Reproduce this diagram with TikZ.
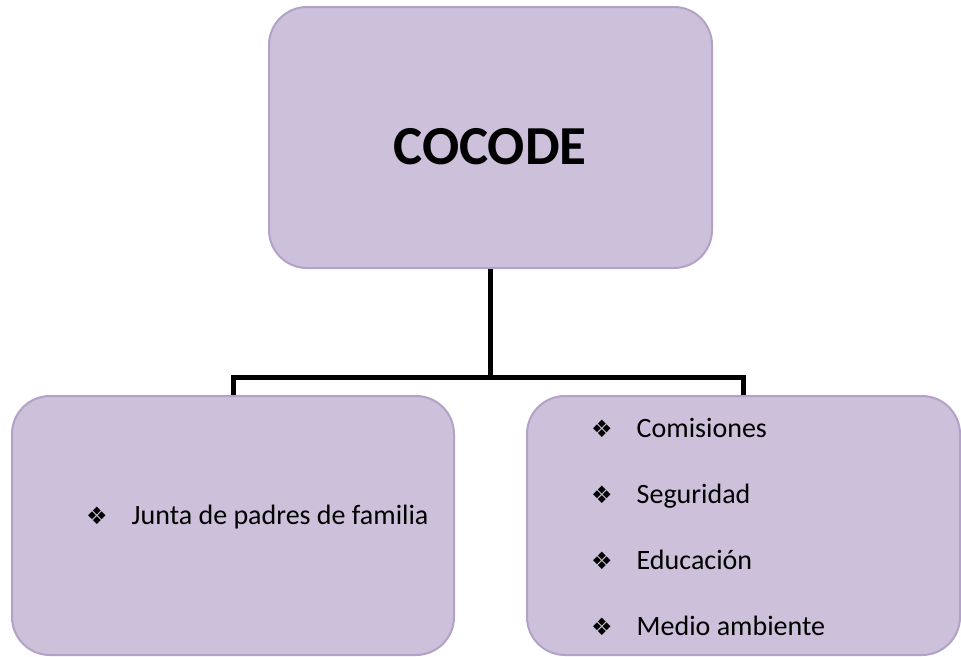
\documentclass[tikz,border=0pt]{standalone}
\usepackage{fontspec}
\setmainfont{Carlito}
\newfontfamily\simbolo{DejaVu Sans}
\usetikzlibrary{positioning}
\definecolor{lila}{RGB}{204,192,218}
\definecolor{lilaborde}{RGB}{178,162,199}
\tikzset{
  caja/.style={draw=lilaborde, fill=lila, line width=2pt, rectangle, rounded corners=38pt},
  item/.style={anchor=west, inner sep=0pt, text height=19pt, text depth=6pt,
    font=\fontsize{28}{32}\selectfont},
  conector/.style={draw=black, line width=5pt},
}
\newcommand{\vineta}{{\simbolo\fontsize{24}{26}\selectfont ❖}\hspace{24pt}}

\begin{document}
\begin{tikzpicture}[x=1pt, y=-1pt]
\useasboundingbox (0,0) rectangle (961,656);

% cajas
\node [caja, minimum width=443pt, minimum height=261pt] (cocode) at (490.5,137.5) {};
\node [font=\bfseries\fontsize{55}{60}\selectfont] (titulo) at (490,147) {COCODE};

\node [caja, minimum width=442pt, minimum height=259pt] (padres) at (233,525.5) {};
\node [caja, minimum width=433pt, minimum height=259pt] (grupos) at (743.5,525.5) {};

% lineas
\coordinate (rama) at (490.5,377);
\draw [conector] (cocode.south) -- (rama);
\draw [conector] (padres.north) |- (rama) -| (grupos.north);

% textos
\node [item] (junta) at (86,518) {\vineta Junta de padres de familia};

\node [item] (comisiones) at (591,431) {\vineta Comisiones};
\node [item, below=66pt of comisiones.west, anchor=west] (seguridad) {\vineta Seguridad};
\node [item, below=66pt of seguridad.west, anchor=west] (educacion) {\vineta Educación};
\node [item, below=66pt of educacion.west, anchor=west] (ambiente) {\vineta Medio ambiente};

\end{tikzpicture}
\end{document}
